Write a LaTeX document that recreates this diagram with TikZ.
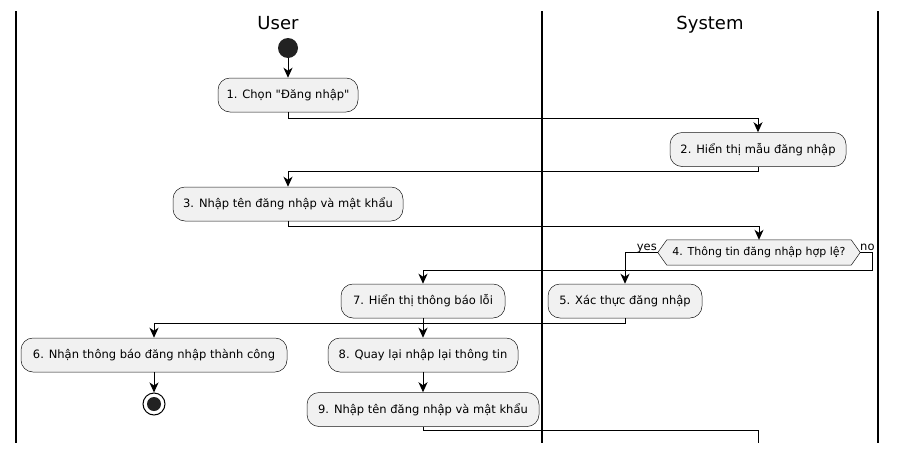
\documentclass[tikz,border=0pt]{standalone}
\usepackage{fontspec}
\setmainfont{DejaVu Sans}[Ligatures=TeXOff]
\usetikzlibrary{arrows.meta}
\definecolor{boxfill}{HTML}{F1F1F1}
\definecolor{boxline}{HTML}{181818}
\definecolor{dotfill}{HTML}{222222}
\pgfdeclarelayer{bg}
\pgfsetlayers{bg,main}
\begin{document}
\begin{tikzpicture}[x=1pt,y=-1pt,
  action/.style={draw=boxline, line width=0.5pt, fill=boxfill,
    rounded corners=12pt, minimum height=34pt, inner sep=0pt,
    font=\fontsize{11.5}{13}\selectfont},
  question/.style={minimum height=25pt, inner sep=0pt,
    font=\fontsize{11}{12}\selectfont},
  branch/.style={inner sep=0pt, font=\fontsize{11.5}{12}\selectfont},
  lanetitle/.style={anchor=base, font=\fontsize{18}{20}\selectfont},
  lane/.style={line width=1.5pt},
  flow/.style={line width=1pt, -{Stealth[length=10pt,width=9pt,inset=3pt]}},
  plain/.style={line width=1pt},
]
\begin{pgfonlayer}{bg}
  \fill[white] (0,0) rectangle (897,453);
\end{pgfonlayer}
\useasboundingbox (0,0) rectangle (897,453);

% swimlane separators and titles
\draw[lane] (16,11) -- (16,443);
\draw[lane] (542,11) -- (542,443);
\draw[lane] (878,11) -- (878,443);
\node[lanetitle] (userlane) at (278,29) {User};
\node[lanetitle] (syslane) at (710,29) {System};

% start and stop
\node[circle, fill=dotfill, minimum size=20pt, inner sep=0pt] (start) at (288,48) {};
\node[circle, draw=black, line width=1pt, fill=white, minimum size=22pt, inner sep=0pt] (stop) at (154,404) {};
\fill[dotfill] (stop.center) circle (7pt);

% activities
\node[action, minimum width=140pt] (b1) at (288,95) {1. Chọn "Đăng nhập"};
\node[action, minimum width=176pt] (b2) at (758,149.5) {2. Hiển thị mẫu đăng nhập};
\node[action, minimum width=230pt] (b3) at (288,204) {3. Nhập tên đăng nhập và mật khẩu};
\node[question, minimum width=202pt] (d4) at (759,252.5) {4. Thông tin đăng nhập hợp lệ?};
\begin{pgfonlayer}{bg}
  \filldraw[draw=boxline, line width=0.5pt, fill=boxfill]
    (d4.west) -- ([xshift=9pt]d4.north west) -- ([xshift=-9pt]d4.north east)
    -- (d4.east) -- ([xshift=-9pt]d4.south east) -- ([xshift=9pt]d4.south west) -- cycle;
\end{pgfonlayer}
\node[action, minimum width=154pt] (b5) at (625,301) {5. Xác thực đăng nhập};
\node[action, minimum width=164pt] (b7) at (423,301) {7. Hiển thị thông báo lỗi};
\node[action, minimum width=266pt] (b6) at (154,355) {6. Nhận thông báo đăng nhập thành công};
\node[action, minimum width=190pt] (b8) at (423,355) {8. Quay lại nhập lại thông tin};
\node[action, minimum width=232pt] (b9) at (423,409.5) {9. Nhập tên đăng nhập và mật khẩu};

% branch labels
\node[branch, anchor=base east] (yeslbl) at (657,250) {yes};
\node[branch, anchor=base west] (nolbl) at (860,250) {no};

% control flow
\coordinate (nobend) at (872,270);
\coordinate (loopend) at (758,443);
\draw[flow] (start) -- (b1);
\draw[flow] (b1.south) -- ++(0,6) -| (b2.north);
\draw[flow] (b2.south) -- ++(0,5) -| (b3.north);
\draw[flow] (b3.south) -- ++(0,5) -| (d4.north);
\draw[flow] (d4.west) -| (b5.north);
\draw[flow] (d4.east) -| (nobend) -| (b7.north);
\draw[flow] (b5.south) -- ++(0,5) -| (b6.north);
\draw[flow] (b7) -- (b8);
\draw[flow] (b8) -- (b9);
\draw[flow] (b6) -- (stop);
\draw[plain] (b9.south) -- ++(0,4) -| (loopend);
\end{tikzpicture}
\end{document}
